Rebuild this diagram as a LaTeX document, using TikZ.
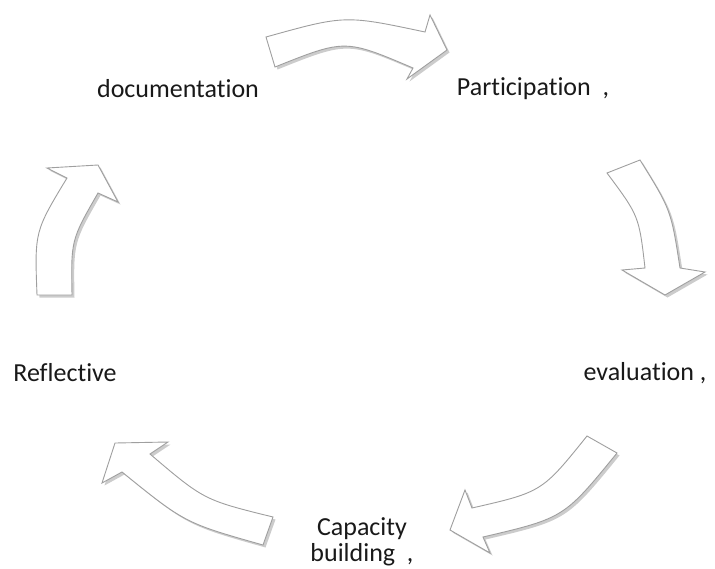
\documentclass[tikz,border=0pt]{standalone}
\usepackage{fontspec}
\setmainfont[Ligatures={NoCommon}]{Carlito}
\usetikzlibrary{shadows}
\begin{document}
\begin{tikzpicture}[x=1pt,y=-1pt,
  arrowshape/.style={draw=gray!75, line width=0.9pt, fill=white, line join=miter,
    drop shadow={opacity=0.2, shadow xshift=2.5pt, shadow yshift=-2.5pt, fill=black}},
  lbl/.style={font=\fontsize{26}{26}\selectfont, text=black!90, inner sep=0pt, align=center}]
\useasboundingbox (0,0) rectangle (715,568);
% top arrow
\path[arrowshape] (266,37) .. controls (345,15) .. (425,32) -- (430,15) -- (447,50) -- (407,79) -- (413,68)
  .. controls (345,39) .. (275,67) -- cycle;
% right arrow
\path[arrowshape] (640,160) .. controls (671,210) .. (680,268) -- (705,272) -- (665,295) -- (622,270) -- (645,268)
  .. controls (639,216) .. (607,173) -- cycle;
% bottom-right arrow
\path[arrowshape] (587,436) .. controls (542,492) .. (472,508) -- (465,490) -- (450,530) -- (490,553) -- (483,537)
  .. controls (564,518) .. (617,453) -- cycle;
% bottom-left arrow
\path[arrowshape] (263,545) .. controls (185,523) .. (122,472) -- (102,483) -- (115,443) -- (168,442) -- (150,454)
  .. controls (204,500) .. (273,517) -- cycle;
% left arrow
\path[arrowshape] (37,295) .. controls (34.6,231.5) .. (67,178) -- (47,168) -- (98,165) -- (118,202) -- (98,193)
  .. controls (71,240) .. (72,295) -- cycle;
% labels
\node[lbl] (doc) at (178,89) {documentation};
\node[lbl] (par) at (533,89) {Participation\ \ ,};
\node[lbl] (eva) at (645,373) {evaluation\ ,};
\node[lbl] (ref) at (65,373) {Reflective};
\node[lbl] (cap) at (362,542) {Capacity\\building\ \ ,};
\end{tikzpicture}
\end{document}
